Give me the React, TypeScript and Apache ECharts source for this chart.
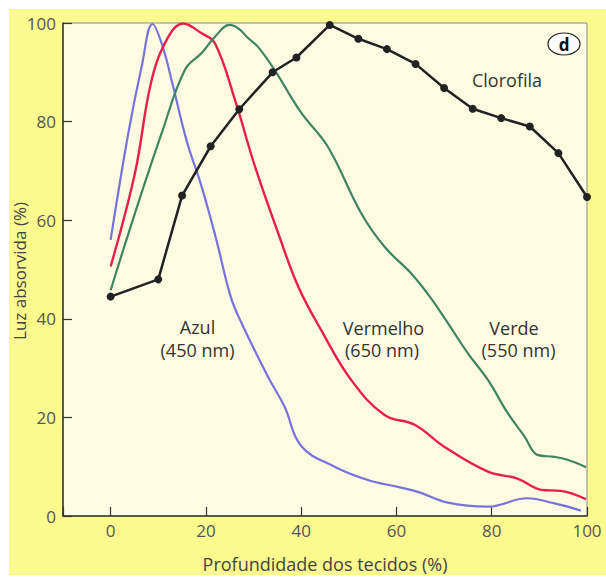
import React, { useEffect, useRef } from "react";
import * as echarts from "echarts";

// Chlorophyll (black, with markers)
const chloroX = [0, 10, 15, 21, 27, 34, 39, 46, 52, 58, 64, 70, 76, 82, 88, 94, 100];
const chloroY = [44.5, 48, 65, 75, 82.5, 90, 93, 99.6, 96.8, 94.7, 91.7, 86.8, 82.6, 80.7, 79, 73.6, 64.7];

// Azul (450 nm)
const blueX = [0, 3.7, 6.5, 8.8, 10.7, 12.8, 15.9, 19.1, 22.2, 25.2, 27.5, 33, 36.5, 40, 47, 54, 60.3, 64.5, 70.8, 79.2, 87.5, 93, 98.7];
const blueY = [56, 77.6, 91.1, 99.8, 95.9, 88.4, 76.3, 66.8, 56, 44.5, 39.1, 28.3, 22.2, 14.2, 10, 7.3, 5.9, 4.9, 2.7, 1.9, 3.6, 2.6, 1.1];

// Vermelho (650 nm)
const redX = [0, 5.1, 8.6, 12.1, 15.2, 19.1, 21.9, 26.1, 30.3, 35.2, 39.4, 44.2, 50.5, 57.5, 63.8, 70.1, 79.2, 85.4, 90.4, 94.5, 99.8];
const redY = [50.6, 69.5, 88.4, 97.2, 99.9, 97.9, 95.9, 84.4, 70.9, 57.3, 46.5, 37.7, 27.6, 20.5, 18.5, 14, 9, 7.6, 5.3, 5.1, 3.4];

// Verde (550 nm)
const greenX = [0, 5.1, 10.7, 15.6, 19.1, 21.9, 25, 26.8, 28.9, 30.9, 34.4, 40, 45.6, 52.6, 57.5, 63.1, 67, 70.8, 75, 79.2, 83.4, 86.9, 89.6, 93.1, 95.9, 99.8];
const greenY = [45.8, 61.4, 77.6, 90.5, 93.9, 97.2, 99.6, 98.9, 96.9, 95.2, 90.5, 81.8, 74.9, 61.4, 54.6, 49.2, 44.5, 39.1, 33, 27.6, 20.8, 16.1, 12.4, 12, 11.4, 9.9];

const yTicks = [0, 20, 40, 60, 80, 100];

const FONT = "'Open Sans', 'Noto Sans', sans-serif";

const pairs = (xs: number[], ys: number[]) => xs.map((x, i) => [x, ys[i]]);

export default function App() {
  const ref = useRef<HTMLDivElement>(null);
  useEffect(() => {
    if (!ref.current) return;
    const chart = echarts.init(ref.current, null, { renderer: "svg" });
    const textStyle = (text: string, x: number, y: number, size = 18, color = "#333") => ({
      type: "text",
      x,
      y,
      z: 100,
      style: {
        text,
        fill: color,
        fontSize: size,
        fontFamily: FONT,
        textAlign: "center",
        textVerticalAlign: "middle",
      },
    });
    chart.setOption({
      animation: false,
      backgroundColor: "#fcf98e",
      grid: {
        left: 54,
        top: 14,
        right: 19,
        bottom: 61,
        show: true,
        backgroundColor: "#fefbe2",
        borderColor: "#8a8a8a",
        borderWidth: 1,
      },
      xAxis: {
        type: "value",
        min: -10,
        max: 100,
        splitNumber: 5,
        axisLine: { show: true, onZero: false, lineStyle: { color: "#333", width: 1.5 } },
        axisTick: { show: true, inside: true, length: 9, lineStyle: { color: "#333", width: 1.2 } },
        axisLabel: {
          margin: 6,
          fontSize: 17,
          color: "#555",
          fontFamily: FONT,
          formatter: (v: number) => (v < 0 ? "" : String(v)),
        },
        splitLine: { show: false },
      },
      yAxis: {
        type: "value",
        min: yTicks[0],
        max: yTicks[yTicks.length - 1],
        interval: 20,
        axisLine: { show: true, onZero: false, lineStyle: { color: "#333", width: 1.5 } },
        axisTick: { show: true, inside: true, length: 9, lineStyle: { color: "#333", width: 1.2 } },
        axisLabel: { margin: 7, fontSize: 17, color: "#555", fontFamily: FONT },
        splitLine: { show: false },
      },
      series: [
        {
          type: "line",
          data: pairs(blueX, blueY),
          smooth: 0.4,
          showSymbol: false,
          lineStyle: { color: "#7674dc", width: 2.2 },
          z: 2,
        },
        {
          type: "line",
          data: pairs(redX, redY),
          smooth: 0.4,
          showSymbol: false,
          lineStyle: { color: "#e5204c", width: 2.4 },
          z: 3,
        },
        {
          type: "line",
          data: pairs(greenX, greenY),
          smooth: 0.4,
          showSymbol: false,
          lineStyle: { color: "#3f8462", width: 2.2 },
          z: 4,
        },
        {
          type: "line",
          data: pairs(chloroX, chloroY),
          smooth: false,
          symbol: "circle",
          symbolSize: 8,
          itemStyle: { color: "#222" },
          lineStyle: { color: "#222", width: 2.5 },
          z: 5,
        },
      ],
      graphic: [
        {
          type: "rect",
          z: 0,
          shape: { x: 0, y: 566, width: 597, height: 2 },
          style: { fill: "#ffffff" },
        },
        textStyle("Profundidade dos tecidos (%)", 316, 555, 18, "#444"),
        {
          type: "text",
          x: 10,
          y: 262,
          rotation: Math.PI / 2,
          z: 100,
          style: {
            text: "Luz absorvida (%)",
            fill: "#444",
            fontSize: 17,
            fontFamily: FONT,
            textAlign: "center",
            textVerticalAlign: "middle",
          },
        },
        textStyle("Azul", 188.5, 318),
        textStyle("(450 nm)", 188.5, 341),
        textStyle("Vermelho", 374.5, 319),
        textStyle("(650 nm)", 373, 341),
        textStyle("Verde", 505, 319),
        textStyle("(550 nm)", 509.5, 341),
        textStyle("Clorofila", 498, 71),
        {
          type: "ellipse",
          z: 100,
          shape: { cx: 555, cy: 35, rx: 16, ry: 11 },
          style: { fill: "#ffffff", stroke: "#222", lineWidth: 1.2 },
        },
        {
          type: "text",
          x: 555,
          y: 35,
          z: 101,
          style: {
            text: "d",
            fill: "#111",
            fontSize: 17,
            fontWeight: "bold",
            fontFamily: FONT,
            textAlign: "center",
            textVerticalAlign: "middle",
          },
        },
      ],
    });
    return () => chart.dispose();
  }, []);
  return (
    <div style={{ position: "fixed", left: 0, top: 0, width: 606, height: 577, background: "#ffffff" }}>
      <div ref={ref} style={{ position: "absolute", left: 9, top: 9, width: 597, height: 568 }} />
    </div>
  );
}
